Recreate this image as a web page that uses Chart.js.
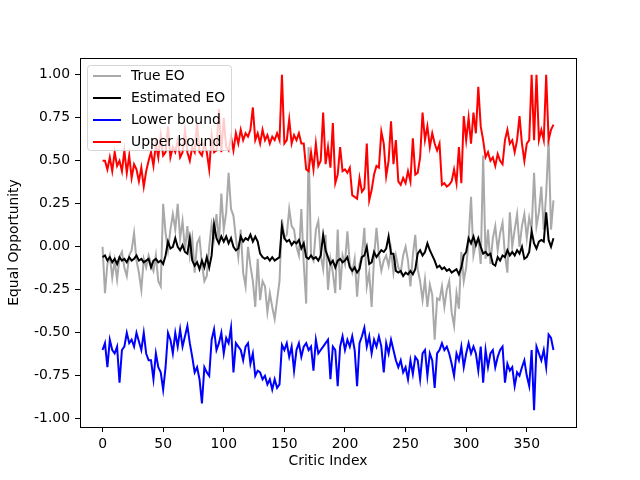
<!DOCTYPE html>
<html>
<head>
<meta charset="utf-8">
<script src="https://cdn.jsdelivr.net/npm/chart.js@4.4.1/dist/chart.umd.min.js"></script>
<style>
  html, body { margin: 0; padding: 0; background: #fff; }
  #wrap { width: 640px; height: 480px; }
</style>
</head>
<body>
<div id="wrap"><canvas id="chart" width="640" height="480"></canvas></div>
<script>
// values every 2nd critic index (0..372)
const step = 2;

const trueEO = [
  0.00,-0.27,-0.10,-0.05,-0.18,-0.08,-0.19,-0.06,-0.03,-0.12,
  -0.17,-0.05,-0.02,0.08,-0.08,-0.15,-0.25,-0.07,-0.12,-0.05,
  -0.10,-0.14,-0.05,-0.20,-0.23,0.25,0.08,-0.02,0.10,0.19,
  0.10,0.25,0.05,0.15,-0.02,0.12,-0.05,0.05,-0.15,0.02,
  0.05,-0.10,-0.20,-0.17,0.00,0.13,0.05,0.19,0.02,0.31,
  0.10,0.20,0.43,0.22,0.18,0.05,-0.06,0.10,-0.15,-0.23,
  0.00,-0.11,-0.20,-0.35,-0.07,-0.31,-0.20,-0.23,-0.38,-0.27,
  -0.35,-0.42,-0.31,-0.20,0.16,0.05,0.07,0.22,0.12,0.10,
  0.00,-0.05,0.22,-0.10,-0.33,0.58,-0.05,-0.08,0.10,0.15,
  -0.05,-0.13,0.07,-0.25,-0.07,-0.15,-0.27,0.10,-0.25,-0.05,
  -0.10,0.09,-0.10,-0.15,-0.07,-0.29,-0.10,-0.05,0.11,-0.23,
  -0.15,-0.35,-0.06,0.11,-0.05,-0.14,-0.08,-0.05,-0.11,-0.02,
  -0.15,-0.05,-0.12,-0.15,-0.05,0.00,-0.08,-0.23,-0.05,0.07,
  -0.13,-0.20,-0.31,-0.19,-0.35,-0.22,-0.28,-0.54,-0.30,-0.31,
  -0.23,-0.35,-0.25,-0.20,-0.38,-0.46,-0.27,-0.36,-0.03,-0.20,
  -0.12,0.04,0.29,-0.05,0.02,0.05,-0.10,0.53,-0.07,0.10,
  -0.10,0.05,0.12,-0.02,0.08,0.14,-0.05,-0.15,0.20,0.00,
  0.10,0.19,0.00,0.12,0.19,0.05,0.17,0.10,0.43,0.12,
  0.20,0.35,0.10,0.31,0.62,0.10,0.27
];

const estEO = [
  -0.06,-0.05,-0.08,-0.06,-0.09,-0.07,-0.10,-0.06,-0.08,-0.07,
  -0.09,-0.06,-0.08,-0.07,-0.05,-0.08,-0.07,-0.09,-0.08,-0.07,
  -0.12,-0.08,-0.07,-0.09,-0.08,-0.10,-0.05,0.03,-0.01,0.00,
  0.05,0.00,-0.02,0.01,-0.03,-0.04,0.05,-0.08,-0.11,-0.09,
  -0.13,-0.08,-0.12,-0.06,-0.12,-0.05,0.13,0.05,0.02,0.06,
  0.03,0.06,0.02,0.05,0.00,-0.02,-0.01,0.06,0.03,0.05,
  0.04,0.07,0.03,0.06,0.03,-0.04,-0.06,-0.07,-0.06,-0.08,
  -0.06,-0.08,-0.07,-0.06,0.12,0.05,0.03,0.04,0.01,0.03,
  0.02,0.04,-0.01,0.02,-0.06,-0.07,-0.05,-0.07,-0.06,-0.08,
  -0.05,0.07,-0.02,-0.06,-0.10,-0.08,-0.12,-0.08,-0.07,-0.09,
  -0.08,-0.06,-0.12,-0.14,-0.12,-0.15,-0.13,-0.06,-0.05,0.00,
  -0.10,-0.09,-0.03,-0.06,-0.04,-0.02,-0.03,-0.01,0.06,-0.04,
  -0.04,-0.14,-0.15,-0.14,-0.17,-0.15,-0.16,-0.14,-0.16,-0.13,
  -0.04,-0.02,-0.05,-0.03,0.02,-0.02,-0.05,-0.08,-0.12,-0.11,
  -0.13,-0.12,-0.14,-0.13,-0.15,-0.14,-0.13,-0.16,-0.12,-0.05,
  -0.03,0.05,0.02,0.06,0.01,0.05,0.00,-0.04,-0.03,-0.05,
  -0.04,-0.10,-0.11,-0.06,-0.08,-0.05,-0.06,-0.02,-0.05,-0.03,
  -0.05,-0.02,-0.04,0.00,-0.07,-0.06,-0.03,0.09,0.02,-0.01,
  0.03,0.04,0.03,0.20,0.04,0.00,0.05
];

const lowerBound = [
  -0.60,-0.56,-0.70,-0.54,-0.60,-0.62,-0.58,-0.79,-0.60,-0.58,
  -0.50,-0.56,-0.54,-0.58,-0.50,-0.55,-0.60,-0.50,-0.62,-0.66,
  -0.66,-0.77,-0.62,-0.70,-0.73,-0.83,-0.70,-0.50,-0.54,-0.62,
  -0.50,-0.58,-0.48,-0.58,-0.52,-0.46,-0.56,-0.64,-0.73,-0.70,
  -0.77,-0.91,-0.70,-0.73,-0.75,-0.54,-0.48,-0.60,-0.56,-0.50,
  -0.62,-0.53,-0.56,-0.47,-0.73,-0.56,-0.58,-0.60,-0.66,-0.58,
  -0.56,-0.68,-0.62,-0.75,-0.72,-0.73,-0.77,-0.75,-0.80,-0.77,
  -0.83,-0.77,-0.82,-0.80,-0.57,-0.60,-0.56,-0.64,-0.58,-0.72,
  -0.60,-0.56,-0.64,-0.58,-0.56,-0.60,-0.58,-0.72,-0.54,-0.62,
  -0.60,-0.58,-0.56,-0.54,-0.77,-0.58,-0.60,-0.81,-0.58,-0.52,
  -0.60,-0.54,-0.58,-0.52,-0.60,-0.81,-0.56,-0.52,-0.47,-0.58,
  -0.52,-0.62,-0.54,-0.58,-0.52,-0.58,-0.73,-0.56,-0.62,-0.54,
  -0.60,-0.66,-0.70,-0.66,-0.73,-0.70,-0.77,-0.66,-0.74,-0.64,
  -0.66,-0.77,-0.62,-0.60,-0.75,-0.62,-0.66,-0.82,-0.62,-0.60,
  -0.56,-0.60,-0.58,-0.62,-0.68,-0.75,-0.62,-0.66,-0.58,-0.70,
  -0.62,-0.56,-0.62,-0.58,-0.62,-0.72,-0.58,-0.79,-0.60,-0.70,
  -0.62,-0.60,-0.70,-0.64,-0.60,-0.58,-0.79,-0.68,-0.72,-0.70,
  -0.81,-0.73,-0.75,-0.70,-0.66,-0.75,-0.81,-0.60,-0.95,-0.58,
  -0.62,-0.66,-0.60,-0.70,-0.51,-0.53,-0.60
];

const upperBound = [
  0.50,0.50,0.45,0.52,0.44,0.55,0.47,0.50,0.44,0.56,
  0.43,0.53,0.40,0.48,0.45,0.38,0.46,0.35,0.44,0.50,
  0.55,0.47,0.60,0.52,0.65,0.53,0.55,0.70,0.52,0.58,
  0.55,0.62,0.52,0.55,0.68,0.55,0.50,0.58,0.55,0.72,
  0.55,0.53,0.60,0.55,0.45,0.65,0.55,0.56,0.80,0.55,
  0.75,0.58,0.56,0.64,0.56,0.66,0.60,0.68,0.62,0.66,
  0.64,0.68,0.81,0.62,0.66,0.60,0.68,0.62,0.65,0.60,
  0.64,0.62,0.66,0.62,1.00,0.60,0.62,0.74,0.60,0.65,
  0.62,0.66,0.60,0.60,0.45,0.44,0.55,0.45,0.60,0.47,
  0.50,0.78,0.48,0.58,0.46,0.72,0.37,0.42,0.58,0.44,
  0.45,0.43,0.46,0.30,0.29,0.28,0.40,0.32,0.34,0.60,
  0.27,0.33,0.42,0.47,0.46,0.67,0.60,0.41,0.50,0.73,
  0.48,0.62,0.38,0.36,0.40,0.37,0.44,0.38,0.63,0.42,
  0.43,0.52,0.78,0.62,0.70,0.58,0.66,0.60,0.56,0.60,
  0.36,0.37,0.35,0.36,0.38,0.45,0.37,0.58,0.37,0.76,
  0.62,0.75,0.60,0.78,0.66,0.93,0.70,0.62,0.52,0.55,
  0.50,0.52,0.47,0.54,0.50,0.48,0.62,0.68,0.60,0.62,
  0.55,0.62,0.76,0.60,0.50,0.60,0.62,1.00,0.62,1.00,
  0.62,0.68,0.62,1.00,0.62,0.68,0.71
];

const xTicks = [0, 50, 100, 150, 200, 250, 300, 350];
const yTicks = [-1.00, -0.75, -0.50, -0.25, 0.00, 0.25, 0.50, 0.75, 1.00];

const criticIdx = trueEO.map((v, k) => k * step);

function toPoints(vals) {
  return vals.map((v, k) => ({ x: criticIdx[k], y: v }));
}

Chart.defaults.font.family = "'DejaVu Sans', sans-serif";
Chart.defaults.font.size = 13.9;
Chart.defaults.color = '#000';

// axes box on all four sides + matplotlib style legend box
const frameAndLegend = {
  id: 'frameAndLegend',
  afterDatasetsDraw(chart) {
    const ctx = chart.ctx;
    const a = chart.chartArea;
    ctx.save();
    ctx.strokeStyle = '#000';
    ctx.lineWidth = 1;
    ctx.strokeRect(Math.round(a.left) + 0.5, Math.round(a.top) + 0.5,
      Math.round(a.right - a.left), Math.round(a.bottom - a.top));

    const x0 = a.left + 7, y0 = a.top + 7, w = 144, h = 85;
    ctx.globalAlpha = 0.8;
    ctx.beginPath();
    ctx.roundRect(x0 + 0.5, y0 + 0.5, w, h, 3);
    ctx.fillStyle = '#fff';
    ctx.fill();
    ctx.strokeStyle = '#cccccc';
    ctx.stroke();
    ctx.globalAlpha = 1;

    ctx.font = "13.9px 'DejaVu Sans', sans-serif";
    ctx.textBaseline = 'middle';
    ctx.textAlign = 'left';
    chart.data.datasets.forEach((ds, k) => {
      const y = y0 + 11 + k * 22;
      ctx.beginPath();
      ctx.moveTo(x0 + 6, y);
      ctx.lineTo(x0 + 34, y);
      ctx.strokeStyle = ds.borderColor;
      ctx.lineWidth = 2;
      ctx.stroke();
      ctx.fillStyle = '#000';
      ctx.fillText(ds.label, x0 + 44, y);
    });
    ctx.restore();
  }
};

new Chart(document.getElementById('chart'), {
  type: 'line',
  data: {
    datasets: [
      { label: 'True EO', data: toPoints(trueEO), borderColor: '#a9a9a9', order: 4 },
      { label: 'Estimated EO', data: toPoints(estEO), borderColor: '#000000', order: 3 },
      { label: 'Lower bound', data: toPoints(lowerBound), borderColor: '#0000ff', order: 2 },
      { label: 'Upper bound', data: toPoints(upperBound), borderColor: '#ff0000', order: 1 }
    ]
  },
  options: {
    responsive: false,
    animation: false,
    devicePixelRatio: 1,
    layout: { padding: { top: 58, right: 64, left: 0, bottom: 0 } },
    elements: {
      line: { borderWidth: 2, tension: 0, fill: false },
      point: { radius: 0 }
    },
    plugins: {
      legend: { display: false },
      tooltip: { enabled: false }
    },
    scales: {
      x: {
        type: 'linear',
        min: -18.6,
        max: 390.6,
        afterFit: s => { s.height = 53; },
        afterBuildTicks: s => { s.ticks = xTicks.map(v => ({ value: v })); },
        ticks: { padding: 4, maxRotation: 0, callback: v => String(v) },
        grid: { drawOnChartArea: false, drawTicks: true, tickLength: 5, color: '#000' },
        border: { display: false },
        title: { display: true, text: 'Critic Index', padding: { top: 0, bottom: 10 } }
      },
      y: {
        type: 'linear',
        min: -1.0475,
        max: 1.0975,
        afterFit: s => { s.width = 80; },
        afterBuildTicks: s => { s.ticks = yTicks.map(v => ({ value: v })); },
        ticks: { padding: 5, callback: v => v.toFixed(2) },
        grid: { drawOnChartArea: false, drawTicks: true, tickLength: 5, color: '#000' },
        border: { display: false },
        title: { display: true, text: 'Equal Opportunity', padding: { top: 6, bottom: 0 } }
      }
    }
  },
  plugins: [frameAndLegend]
});
</script>
</body>
</html>
